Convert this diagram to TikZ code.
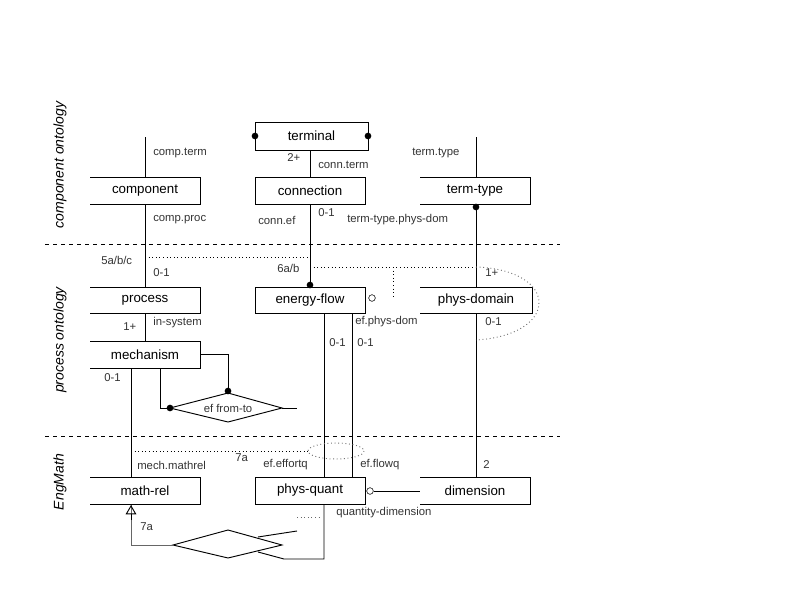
\documentclass[tikz,border=0pt]{standalone}
\usepackage{fontspec}
\setmainfont{Liberation Sans}
\usetikzlibrary{arrows.meta}
\begin{document}
\begin{tikzpicture}[x=0.75pt,y=-0.75pt,
  lab/.style={font=\fontsize{8.5}{9}\selectfont,inner sep=0pt,anchor=west,text=black!80},
  bx/.style={font=\fontsize{10}{11}\selectfont,inner sep=0pt},
  ln/.style={line width=0.7pt},
  dot/.style={circle,fill=black,inner sep=0pt,minimum size=5pt},
  odot/.style={circle,draw,fill=white,inner sep=0pt,minimum size=5pt},
  side/.style={font=\itshape\fontsize{10.5}{11}\selectfont,rotate=90}]
\useasboundingbox (0,0) rectangle (800,600);
% boxes: full
\newcommand{\fullbox}[6]{\draw[ln] (#1,#2) rectangle (#3,#4); \node[bx] (#6) at ({(#1+#3)/2},{(#2+#4)/2}) {#5};}
\newcommand{\openbox}[6]{\draw[ln] (#1,#2) -- (#3,#2) -- (#3,#4) -- (#1,#4); \node[bx] (#6) at ({(#1+#3)/2},{(#2+#4)/2}) {#5};}
\fullbox{255}{122}{368}{150}{terminal}{terminal}
\openbox{90}{177}{200}{204}{component}{component}
\fullbox{255}{177}{365}{204}{connection}{connection}
\openbox{420}{177}{530}{204}{term-type}{termtype}
\openbox{90}{287}{200}{313}{process}{process}
\fullbox{255}{287}{365}{313}{energy-flow}{energyflow}
\openbox{420}{287}{532}{313}{phys-domain}{physdomain}
\openbox{90}{341}{200}{368}{mechanism}{mechanism}
\openbox{90}{477}{200}{504}{math-rel}{mathrel}
\fullbox{255}{477}{365}{504}{phys-quant}{physquant}
\openbox{420}{477}{530}{504}{dimension}{dimension}
\node[dot] at (255,136) {};
\node[dot] at (368,136) {};
% separators
\draw[dashed,ln] (45,244) -- (560,244);
\draw[dashed,ln] (45,436) -- (560,436);
% vertical connectors
\draw[ln] (145,137) -- (145,177);
\draw[ln] (145,204) -- (145,287);
\draw[ln] (145,313) -- (145,341);
\draw[ln] (310,150) -- (310,177);
\draw[ln] (310,204) -- (310,287);
\node[dot] at (310,285) {};
\draw[ln] (476,137) -- (476,177);
\draw[ln] (476,204) -- (476,287);
\node[dot] at (476,207) {};
\draw[ln] (476,313) -- (476,477);
\draw[ln] (131,368) -- (131,477);
\draw[ln] (324,313) -- (324,477);
\draw[ln] (352,313) -- (352,477);
\node[odot] at (372,298) {};
\node[odot] (oc) at (370,491) {};
\draw[ln] (oc) -- (420,491);
% ef from-to diamond
\draw[ln] (170,408) -- (228,393) -- (282,408) -- (228,422) -- cycle;
\node[font=\fontsize{8.5}{9}\selectfont,text=black!80] (effromto) at (228,408) {ef from-to};
\draw[ln] (282,408) -- (297,408);
\draw[ln] (200,354) -- (228,354) -- (228,393);
\node[dot] at (228,391) {};
\draw[ln] (160,368) -- (160,408) -- (170,408);
\node[dot] at (170,408) {};
% lower diamond
\draw[ln] (173,545) -- (228,530) -- (282,545) -- (228,558) -- cycle;
\draw[ln,black!60] (131,505) -- (131,545) -- (173,545);
\draw[ln,-{Triangle[open,length=7pt,width=8pt]}] (131,520) -- (131,505);
\draw[ln] (258,537) -- (297,531);
\draw[ln] (258,552) -- (284,559) -- (324,559) -- (324,504);
\draw[dotted,ln,black!60] (297,517) -- (322,517);
% dotted relations
\draw[dotted,ln] (145,257) -- (310,257);
\draw[dotted,ln] (310,267) -- (476,267);
\draw[dotted,ln] (393,267) -- (393,296);
\draw[dotted,ln,black!55] (476,267) .. controls (560,270) and (560,335) .. (476,340);
\draw[dotted,ln] (131,451) -- (308,451);
\draw[dotted,ln,black!55] (336,451) ellipse (28 and 8);
% labels
\node[lab] at (153,153) {comp.term};
\node[lab] at (287,158) {2+};
\node[lab] at (318,165) {conn.term};
\node[lab] at (412,153) {term.type};
\node[lab] at (153,220) {comp.proc};
\node[lab] at (258,220) {conn.ef};
\node[lab] at (318,213) {0-1};
\node[lab] at (347,220) {term-type.phys-dom};
\node[lab] at (101,260) {5a/b/c};
\node[lab] at (153,273) {0-1};
\node[lab] at (277,268) {6a/b};
\node[lab] at (485,273) {1+};
\node[lab] at (153,323) {in-system};
\node[lab] at (123,327) {1+};
\node[lab] at (355,322) {ef.phys-dom};
\node[lab] at (485,322) {0-1};
\node[lab] at (329,343) {0-1};
\node[lab] at (357,343) {0-1};
\node[lab] at (104,378) {0-1};
\node[lab] at (137,465) {mech.mathrel};
\node[lab] at (235,458) {7a};
\node[lab] at (263,465) {ef.effortq};
\node[lab] at (360,465) {ef.flowq};
\node[lab] at (483,465) {2};
\node[lab] at (336,513) {quantity-dimension};
\node[lab] at (140,527) {7a};
\node[side] at (60,165) {component ontology};
\node[side] at (60,340) {process ontology};
\node[side] at (60,482) {EngMath};
\end{tikzpicture}
\end{document}
